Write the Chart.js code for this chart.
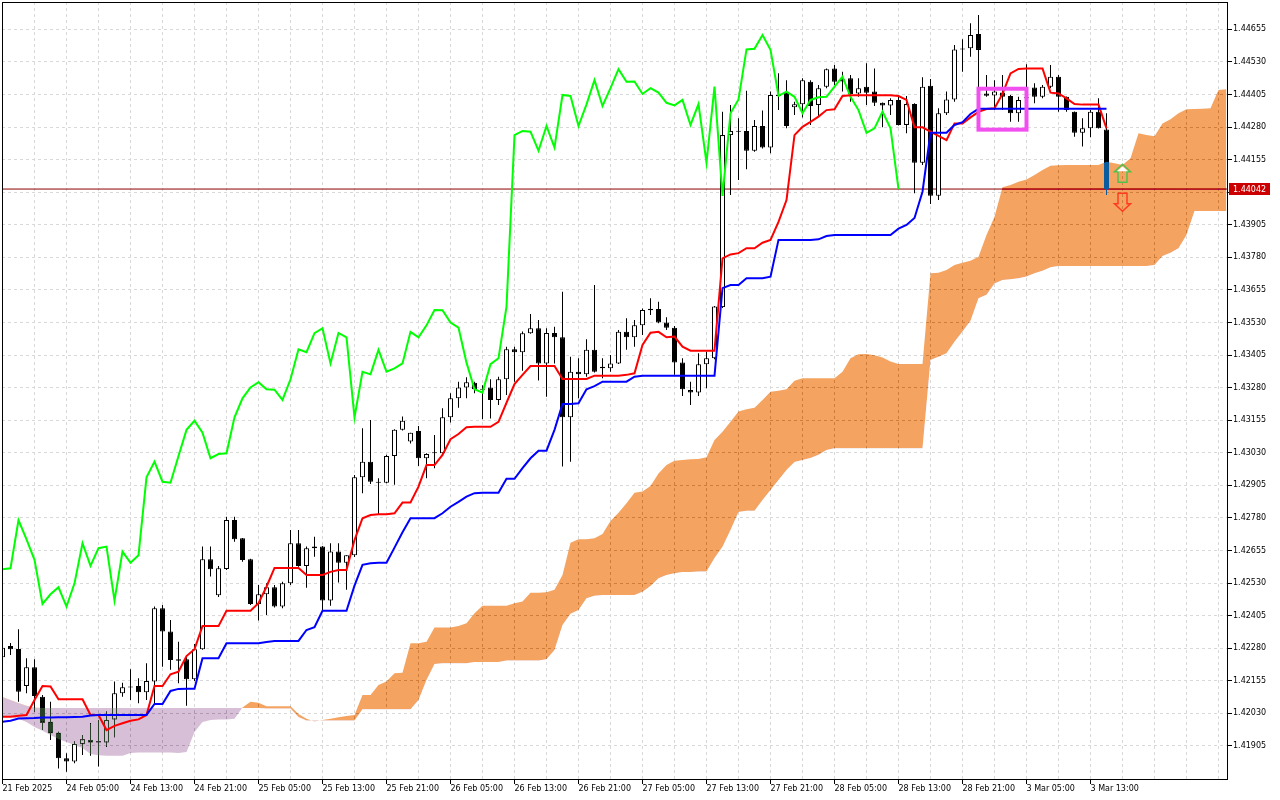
<!DOCTYPE html>
<html>
<head>
<meta charset="utf-8">
<title>EURUSD H1 Ichimoku</title>
<script src="https://cdn.jsdelivr.net/npm/chart.js"></script>
<style>
  html, body { margin: 0; padding: 0; background: #fff; }
  #wrap { width: 1280px; height: 800px; }
</style>
</head>
<body>
<div id="wrap"><canvas id="chart" width="1280" height="800"></canvas></div>
<script>
// hourly candles, bar 0 = 21 Feb 2025 21:00
const opens = [
  1.42245,1.42289,1.42277,1.42135,1.42207,1.42094,1.41998,1.41956,1.41858,1.41845,
  1.41912,1.41928,1.41923,1.41918,1.42007,1.42107,1.42129,1.42135,1.42111,1.42152,
  1.42433,1.42344,1.42238,1.42238,1.42161,1.42276,1.42621,1.42483,1.42584,1.42772,
  1.42702,1.42621,1.42450,1.42487,1.42514,1.42440,1.42529,1.42683,1.42596,1.42664,
  1.42670,1.42463,1.42651,1.42608,1.42637,1.42936,1.42996,1.42919,1.42915,1.43018,
  1.43118,1.43073,1.43114,1.43009,1.43032,1.43028,1.43166,1.43239,1.43281,1.43299,
  1.43276,1.43281,1.43233,1.43312,1.43427,1.43416,1.43489,1.43508,1.43373,1.43490,
  1.43473,1.43166,1.43341,1.43331,1.43425,1.43360,1.43354,1.43373,1.43494,1.43473,
  1.43519,1.43583,1.43582,1.43530,1.43510,1.43376,1.43271,1.43261,1.43370,1.43393,
  1.43589,1.44249,1.44265,1.44265,1.44189,1.44284,1.44201,1.44403,1.44412,1.44356,
  1.44367,1.44454,1.44365,1.44435,1.44505,1.44463,1.44467,1.44409,1.44435,1.44416,
  1.44373,1.44363,1.44384,1.44288,1.44368,1.44143,1.44438,1.44016,1.44333,1.44386,
  1.44578,1.44582,1.44637,1.44409,1.44401,1.44413,1.44399,1.44333,1.44390,1.44432,
  1.44396,1.44435,1.44473,1.44396,1.44339,1.44258,1.44275,1.44339,1.44271
];
const highs = [
  1.42293,1.42300,1.42353,1.42242,1.42238,1.42101,1.42075,1.41960,1.41877,1.41922,
  1.41947,1.41992,1.42005,1.42037,1.42152,1.42148,1.42199,1.42165,1.42222,1.42440,
  1.42446,1.42388,1.42305,1.42254,1.42296,1.42670,1.42670,1.42596,1.42785,1.42785,
  1.42703,1.42623,1.42523,1.42529,1.42523,1.42535,1.42734,1.42734,1.42670,1.42708,
  1.42672,1.42683,1.42683,1.42637,1.42945,1.43124,1.43156,1.42932,1.43022,1.43120,
  1.43169,1.43107,1.43133,1.43028,1.43098,1.43201,1.43258,1.43303,1.43320,1.43303,
  1.43289,1.43312,1.43322,1.43437,1.43437,1.43495,1.43563,1.43540,1.43508,1.43514,
  1.43648,1.43399,1.43393,1.43466,1.43674,1.43393,1.43405,1.43501,1.43546,1.43540,
  1.43584,1.43623,1.43610,1.43550,1.43517,1.43393,1.43303,1.43412,1.43418,1.43593,
  1.44339,1.44365,1.44314,1.44419,1.44307,1.44343,1.44416,1.44486,1.44460,1.44377,
  1.44467,1.44460,1.44441,1.44505,1.44518,1.44492,1.44480,1.44467,1.44525,1.44505,
  1.44374,1.44390,1.44396,1.44399,1.44371,1.44471,1.44464,1.44352,1.44416,1.44595,
  1.44617,1.44678,1.44710,1.44480,1.44460,1.44480,1.44403,1.44396,1.44521,1.44448,
  1.44441,1.44518,1.44480,1.44397,1.44340,1.44314,1.44345,1.44390,1.44333
];
const lows = [
  1.42235,1.42254,1.42075,1.42107,1.42037,1.41966,1.41928,1.41819,1.41806,1.41839,
  1.41870,1.41867,1.41826,1.41902,1.41938,1.42094,1.42081,1.42069,1.42081,1.42069,
  1.42209,1.42197,1.42146,1.42059,1.42154,1.42274,1.42555,1.42477,1.42580,1.42689,
  1.42612,1.42446,1.42386,1.42408,1.42436,1.42433,1.42523,1.42593,1.42512,1.42631,
  1.42420,1.42443,1.42532,1.42504,1.42630,1.42875,1.42910,1.42794,1.42913,1.42907,
  1.43116,1.43066,1.42979,1.42932,1.42971,1.43022,1.43146,1.43203,1.43239,1.43258,
  1.43159,1.43162,1.43213,1.43252,1.43303,1.43345,1.43487,1.43307,1.43245,1.43373,
  1.42977,1.42996,1.43239,1.43322,1.43338,1.43316,1.43341,1.43371,1.43425,1.43437,
  1.43482,1.43559,1.43527,1.43501,1.43329,1.43248,1.43213,1.43248,1.43278,1.43389,
  1.43586,1.44019,1.44077,1.44118,1.44185,1.44198,1.44179,1.44345,1.44275,1.44326,
  1.44317,1.44288,1.44320,1.44429,1.44441,1.44416,1.44377,1.44396,1.44365,1.44361,
  1.44279,1.44326,1.44286,1.44256,1.44026,1.44134,1.43985,1.44000,1.44326,1.44377,
  1.44492,1.44550,1.44422,1.44396,1.44345,1.44345,1.44300,1.44300,1.44352,1.44371,
  1.44390,1.44429,1.44339,1.44339,1.44243,1.44205,1.44241,1.44274,1.44019
];
const closes = [
  1.42282,1.42276,1.42113,1.42207,1.42097,1.41994,1.41954,1.41858,1.41845,1.41913,
  1.41931,1.41918,1.41918,1.42005,1.42107,1.42130,1.42131,1.42111,1.42154,1.42433,
  1.42344,1.42235,1.42232,1.42161,1.42276,1.42621,1.42583,1.42587,1.42772,1.42698,
  1.42619,1.42450,1.42487,1.42514,1.42440,1.42529,1.42683,1.42596,1.42664,1.42670,
  1.42463,1.42651,1.42608,1.42637,1.42936,1.42996,1.42919,1.42915,1.43018,1.43118,
  1.43153,1.43107,1.43009,1.43025,1.43028,1.43166,1.43239,1.43281,1.43301,1.43274,
  1.43272,1.43233,1.43312,1.43427,1.43416,1.43489,1.43508,1.43373,1.43490,1.43473,
  1.43166,1.43341,1.43331,1.43425,1.43341,1.43354,1.43373,1.43494,1.43473,1.43519,
  1.43578,1.43577,1.43530,1.43510,1.43376,1.43274,1.43261,1.43370,1.43393,1.43591,
  1.44249,1.44265,1.44262,1.44189,1.44284,1.44201,1.44403,1.44399,1.44284,1.44367,
  1.44460,1.44361,1.44429,1.44502,1.44454,1.44455,1.44407,1.44429,1.44412,1.44373,
  1.44363,1.44384,1.44288,1.44368,1.44143,1.44435,1.44016,1.44333,1.44386,1.44578,
  1.44580,1.44633,1.44576,1.44400,1.44416,1.44396,1.44333,1.44384,1.44394,1.44396,
  1.44435,1.44473,1.44396,1.44345,1.44258,1.44275,1.44339,1.44275,1.44042
];

// Ichimoku lines
const tenkan = [
  1.42017,1.42017,1.42021,1.42024,1.42081,1.42135,1.42133,1.42084,1.42084,1.42084,
  1.42084,1.42024,1.42024,1.41966,1.41982,1.41992,1.42002,1.42007,1.42024,1.42135,
  1.42135,1.42180,1.42190,1.42250,1.42276,1.42365,1.42365,1.42365,1.42424,1.42424,
  1.42424,1.42424,1.42453,1.42516,1.42588,1.42588,1.42588,1.42588,1.42561,1.42561,
  1.42561,1.42573,1.42580,1.42580,1.42695,1.42779,1.42791,1.42794,1.42794,1.42798,
  1.42839,1.42839,1.42900,1.42983,1.42983,1.43022,1.43082,1.43102,1.43128,1.43130,
  1.43130,1.43130,1.43149,1.43222,1.43294,1.43329,1.43363,1.43363,1.43363,1.43363,
  1.43313,1.43313,1.43313,1.43313,1.43326,1.43326,1.43326,1.43326,1.43329,1.43335,
  1.43444,1.43491,1.43494,1.43473,1.43476,1.43437,1.43422,1.43422,1.43422,1.43422,
  1.43776,1.43791,1.43796,1.43815,1.43815,1.43836,1.43847,1.43916,1.44000,1.44249,
  1.44281,1.44300,1.44320,1.44345,1.44348,1.44399,1.44402,1.44402,1.44402,1.44402,
  1.44402,1.44402,1.44399,1.44384,1.44279,1.44279,1.44262,1.44246,1.44230,1.44294,
  1.44294,1.44317,1.44338,1.44349,1.44352,1.44407,1.44486,1.44503,1.44505,1.44505,
  1.44505,1.44412,1.44409,1.44390,1.44368,1.44366,1.44366,1.44366,1.44275
];
const kijun = [
  1.41998,1.42002,1.42010,1.42011,1.42012,1.42014,1.42014,1.42015,1.42015,1.42016,
  1.42017,1.42022,1.42024,1.42024,1.42024,1.42024,1.42024,1.42024,1.42024,1.42066,
  1.42066,1.42116,1.42124,1.42125,1.42125,1.42242,1.42242,1.42242,1.42299,1.42299,
  1.42299,1.42299,1.42299,1.42304,1.42308,1.42308,1.42308,1.42308,1.42350,1.42361,
  1.42424,1.42424,1.42424,1.42424,1.42520,1.42600,1.42606,1.42608,1.42608,1.42666,
  1.42725,1.42779,1.42779,1.42779,1.42779,1.42798,1.42823,1.42842,1.42862,1.42875,
  1.42877,1.42877,1.42877,1.42930,1.42930,1.42971,1.43009,1.43038,1.43038,1.43118,
  1.43217,1.43217,1.43220,1.43274,1.43286,1.43303,1.43303,1.43303,1.43303,1.43322,
  1.43326,1.43326,1.43326,1.43326,1.43326,1.43326,1.43326,1.43326,1.43326,1.43326,
  1.43662,1.43674,1.43674,1.43700,1.43700,1.43700,1.43706,1.43847,1.43847,1.43847,
  1.43847,1.43847,1.43849,1.43862,1.43866,1.43866,1.43866,1.43866,1.43866,1.43866,
  1.43866,1.43866,1.43890,1.43904,1.43931,1.44032,1.44258,1.44258,1.44258,1.44288,
  1.44299,1.44330,1.44350,1.44350,1.44350,1.44350,1.44350,1.44350,1.44350,1.44350,
  1.44350,1.44350,1.44350,1.44350,1.44350,1.44350,1.44350,1.44350,1.44350
];
// cloud, runs 15 bars past the last candle
const spanA = [
  1.42020,1.42016,1.42009,1.41997,1.41978,1.41963,1.41947,1.41932,1.41920,1.41909,
  1.41897,1.41874,1.41869,1.41867,1.41867,1.41867,1.41878,1.41880,1.41880,1.41880,
  1.41880,1.41880,1.41878,1.41882,1.41959,1.41997,1.42005,1.42007,1.42007,1.42009,
  1.42053,1.42075,1.42071,1.42057,1.42057,1.42057,1.42057,1.42028,1.42009,1.41999,
  1.42005,1.42009,1.42015,1.42020,1.42024,1.42101,1.42101,1.42139,1.42152,1.42184,
  1.42186,1.42299,1.42299,1.42305,1.42360,1.42360,1.42360,1.42365,1.42376,1.42414,
  1.42443,1.42443,1.42443,1.42443,1.42453,1.42459,1.42493,1.42493,1.42495,1.42504,
  1.42561,1.42685,1.42698,1.42698,1.42702,1.42718,1.42768,1.42800,1.42836,1.42877,
  1.42881,1.42903,1.42951,1.42983,1.42999,1.43002,1.43005,1.43006,1.43013,1.43079,
  1.43111,1.43149,1.43188,1.43197,1.43203,1.43233,1.43264,1.43268,1.43274,1.43306,
  1.43316,1.43316,1.43316,1.43316,1.43316,1.43341,1.43393,1.43408,1.43409,1.43404,
  1.43396,1.43380,1.43371,1.43371,1.43371,1.43371,1.43719,1.43721,1.43731,1.43751,
  1.43759,1.43767,1.43782,1.43866,1.43936,1.44049,1.44058,1.44070,1.44079,1.44096,
  1.44115,1.44131,1.44133,1.44134,1.44134,1.44134,1.44134,1.44134,1.44147,1.44141,
  1.44134,1.44160,1.44256,1.44249,1.44245,1.44294,1.44310,1.44333,1.44348,1.44349,
  1.44350,1.44352,1.44422,1.44425
];
const spanB = [
  1.42093,1.42081,1.42070,1.42059,1.42053,1.42051,1.42051,1.42051,1.42051,1.42051,
  1.42051,1.42051,1.42051,1.42051,1.42051,1.42051,1.42051,1.42051,1.42051,1.42051,
  1.42051,1.42051,1.42051,1.42051,1.42051,1.42051,1.42051,1.42051,1.42051,1.42051,
  1.42051,1.42051,1.42051,1.42049,1.42049,1.42049,1.42049,1.42016,1.42003,1.42003,
  1.42003,1.42003,1.42003,1.42003,1.42003,1.42046,1.42046,1.42046,1.42046,1.42046,
  1.42046,1.42046,1.42081,1.42158,1.42220,1.42222,1.42222,1.42222,1.42222,1.42227,
  1.42227,1.42227,1.42227,1.42233,1.42233,1.42233,1.42233,1.42233,1.42238,1.42273,
  1.42369,1.42412,1.42427,1.42472,1.42481,1.42484,1.42484,1.42484,1.42484,1.42484,
  1.42497,1.42519,1.42549,1.42561,1.42568,1.42573,1.42573,1.42574,1.42574,1.42626,
  1.42669,1.42734,1.42803,1.42808,1.42808,1.42849,1.42887,1.42926,1.42964,1.42995,
  1.43002,1.43010,1.43022,1.43041,1.43047,1.43047,1.43047,1.43047,1.43047,1.43047,
  1.43047,1.43047,1.43047,1.43047,1.43047,1.43047,1.43386,1.43399,1.43412,1.43456,
  1.43495,1.43537,1.43623,1.43636,1.43680,1.43693,1.43696,1.43700,1.43706,1.43719,
  1.43729,1.43742,1.43747,1.43747,1.43747,1.43747,1.43747,1.43747,1.43747,1.43747,
  1.43747,1.43747,1.43747,1.43747,1.43751,1.43785,1.43798,1.43815,1.43866,1.43958,
  1.43958,1.43958,1.43958,1.43958
];

const xLabels = [
  '21 Feb 2025','24 Feb 05:00','24 Feb 13:00','24 Feb 21:00','25 Feb 05:00','25 Feb 13:00',
  '25 Feb 21:00','26 Feb 05:00','26 Feb 13:00','26 Feb 21:00','27 Feb 05:00','27 Feb 13:00',
  '27 Feb 21:00','28 Feb 05:00','28 Feb 13:00','28 Feb 21:00','3 Mar 05:00','3 Mar 13:00'
];
const yTicks = [
  1.41905,1.42030,1.42155,1.42280,1.42405,1.42530,1.42655,1.42780,1.42905,1.43030,1.43155,1.43280,
  1.43405,1.43530,1.43655,1.43780,1.43905,1.44030,1.44155,1.44280,1.44405,1.44530,1.44655
];
const bidPrice  = 1.44042;
const chikouShift = 26;
const boxBars   = [122, 128];
const boxPrices = [1.44427, 1.44270];
const arrowBar  = 140;
const arrowUpPrice   = 1.44137;
const arrowDownPrice = 1.44026;

Chart.defaults.font.family = 'DejaVu Sans';
Chart.defaults.font.size   = 8;
Chart.defaults.color       = '#000';

const pts       = arr => arr.map((v, i) => ({ x: i, y: v }));
const wickData  = closes.map((c, i) => ({ x: i, y: [lows[i], highs[i]] }));
const bodyData  = closes.map((c, i) => ({ x: i, y: [opens[i], c] }));
const bodyColor = closes.map((c, i) => c >= opens[i] ? '#ffffff' : '#000000');
const chikou    = pts(closes.slice(chikouShift));

const xGrid = [];
for (let v = 0; v <= 152; v += 4) xGrid.push(v);
const hasLabel = v => v % 8 === 0 && xLabels[v / 8] !== undefined;

function arrowPath(c, cx, top, up)
{
  const h = 18, hh = 7.5, hw = 8, sw = 4.5;
  c.beginPath();
  if (up) {
    c.moveTo(cx, top);            c.lineTo(cx + hw, top + hh); c.lineTo(cx + sw, top + hh);
    c.lineTo(cx + sw, top + h);   c.lineTo(cx - sw, top + h);  c.lineTo(cx - sw, top + hh);
    c.lineTo(cx - hw, top + hh);
  } else {
    c.moveTo(cx - sw, top);            c.lineTo(cx + sw, top);  c.lineTo(cx + sw, top + h - hh);
    c.lineTo(cx + hw, top + h - hh);   c.lineTo(cx, top + h);   c.lineTo(cx - hw, top + h - hh);
    c.lineTo(cx - sw, top + h - hh);
  }
  c.closePath();
}

// terminal look: cloud is xor-ed over candles, frame, objects, price tag
const terminal = {
  id: 'terminal',
  beforeDraw(chart) {
    const c = chart.ctx;
    c.save(); c.fillStyle = '#fff'; c.fillRect(0, 0, chart.width, chart.height); c.restore();
  },
  afterDatasetDraw(chart, args) {
    const lbl = chart.data.datasets[args.index].label;
    if (lbl === 'Senkou Span B') chart.ctx.globalCompositeOperation = 'difference';
    if (lbl === 'Senkou Span A') chart.ctx.globalCompositeOperation = 'source-over';
  },
  afterDraw(chart) {
    const c = chart.ctx, xs = chart.scales.x, ys = chart.scales.y, a = chart.chartArea;
    c.save();
    c.globalCompositeOperation = 'source-over';

    // magenta box
    const bx1 = xs.getPixelForValue(boxBars[0]), bx2 = xs.getPixelForValue(boxBars[1]);
    const by1 = ys.getPixelForValue(boxPrices[0]), by2 = ys.getPixelForValue(boxPrices[1]);
    c.strokeStyle = '#f24ff0';
    c.lineWidth = 4;
    c.strokeRect(bx1, by1, bx2 - bx1, by2 - by1);

    // arrows
    const ax = xs.getPixelForValue(arrowBar);
    c.lineWidth = 1.5;
    arrowPath(c, ax, ys.getPixelForValue(arrowUpPrice), true);
    c.strokeStyle = '#4ec24e';
    c.stroke();
    c.beginPath();
    const uy = ys.getPixelForValue(arrowUpPrice);
    c.moveTo(ax, uy + 2); c.lineTo(ax + 5.5, uy + 7); c.lineTo(ax - 5.5, uy + 7); c.closePath();
    c.fillStyle = '#fff'; c.fill();
    arrowPath(c, ax, ys.getPixelForValue(arrowDownPrice), false);
    c.strokeStyle = '#ff3b1f';
    c.stroke();

    // frame
    c.strokeStyle = '#000';
    c.lineWidth = 1;
    c.strokeRect(a.left + 0.5, a.top + 0.5, a.right - a.left - 1, a.bottom - a.top - 1);

    // bid price tag
    const yb = Math.round(ys.getPixelForValue(bidPrice));
    c.fillStyle = '#cc0000';
    c.fillRect(a.right + 1, yb - 6, 41, 12);
    c.fillStyle = '#fff';
    c.font = '8px "DejaVu Sans"';
    c.textBaseline = 'middle';
    c.fillText(bidPrice.toFixed(5), a.right + 5, yb + 0.5);
    c.restore();
  }
};

const chart = new Chart(document.getElementById('chart').getContext('2d'), {
  type: 'bar',
  data: {
    datasets: [
      { type: 'line', label: 'Bid', data: [{ x: -1, y: bidPrice }, { x: 160, y: bidPrice }],
        borderColor: '#8c0000', borderWidth: 1, pointRadius: 0, order: 12 },
      { type: 'bar', label: 'Wicks', data: wickData, backgroundColor: '#000', borderWidth: 0,
        grouped: false, barPercentage: 1, categoryPercentage: 1, maxBarThickness: 1,
        inflateAmount: 0, order: 11 },
      { type: 'bar', label: 'Bodies', data: bodyData, backgroundColor: bodyColor,
        borderColor: '#000', borderWidth: 1, borderSkipped: false, grouped: false,
        barPercentage: 1, categoryPercentage: 1, maxBarThickness: 5, minBarLength: 1,
        inflateAmount: 0, order: 10 },
      { type: 'line', label: 'Senkou Span B', data: pts(spanB), borderColor: 'rgba(0,0,0,0)',
        borderWidth: 0, pointRadius: 0, fill: false, order: 9 },
      { type: 'line', label: 'Senkou Span A', data: pts(spanA), borderColor: 'rgba(0,0,0,0)',
        borderWidth: 0, pointRadius: 0, order: 8,
        fill: { target: 3, above: '#0b5b9f', below: '#274027' } },
      { type: 'line', label: 'Chikou Span', data: chikou, borderColor: '#00ff00',
        borderWidth: 2, pointRadius: 0, tension: 0, order: 4 },
      { type: 'line', label: 'Tenkan-sen', data: pts(tenkan), borderColor: '#ff0000',
        borderWidth: 2, pointRadius: 0, tension: 0, order: 3 },
      { type: 'line', label: 'Kijun-sen', data: pts(kijun), borderColor: '#0000ff',
        borderWidth: 2, pointRadius: 0, tension: 0, order: 2 }
    ]
  },
  options: {
    responsive: false,
    animation: false,
    devicePixelRatio: 1,
    events: [],
    layout: { padding: { left: 2, top: 2, right: 0, bottom: 0 } },
    plugins: { legend: { display: false }, tooltip: { enabled: false } },
    scales: {
      x: {
        type: 'linear', bounds: 'data', min: -0.0625, max: 153.1875, offset: false,
        afterBuildTicks: s => { s.ticks = xGrid.map(v => ({ value: v })); },
        afterFit: s => { s.height = 20; s.paddingLeft = 0; s.paddingRight = 0; },
        grid: { offset: false, color: '#d9d9d9', lineWidth: 1, tickLength: 4,
                tickColor: ctx => (ctx.tick && hasLabel(ctx.tick.value)) ? '#000' : 'rgba(0,0,0,0)' },
        border: { display: false, dash: [3, 3] },
        ticks: { autoSkip: false, maxRotation: 0, minRotation: 0, align: 'start', padding: 0,
                 callback: v => hasLabel(v) ? xLabels[v / 8] : '' }
      },
      y: {
        type: 'linear', position: 'right', bounds: 'data', min: 1.417744, max: 1.447598,
        afterBuildTicks: s => { s.ticks = yTicks.map(v => ({ value: v })); },
        afterFit: s => { s.width = 52; s.paddingTop = 0; s.paddingBottom = 0; },
        grid: { color: '#d9d9d9', lineWidth: 1, tickLength: 4, tickColor: '#000' },
        border: { display: false, dash: [3, 3] },
        ticks: { autoSkip: false, padding: 1, callback: v => Number(v).toFixed(5) }
      }
    }
  },
  plugins: [terminal]
});
</script>
</body>
</html>
